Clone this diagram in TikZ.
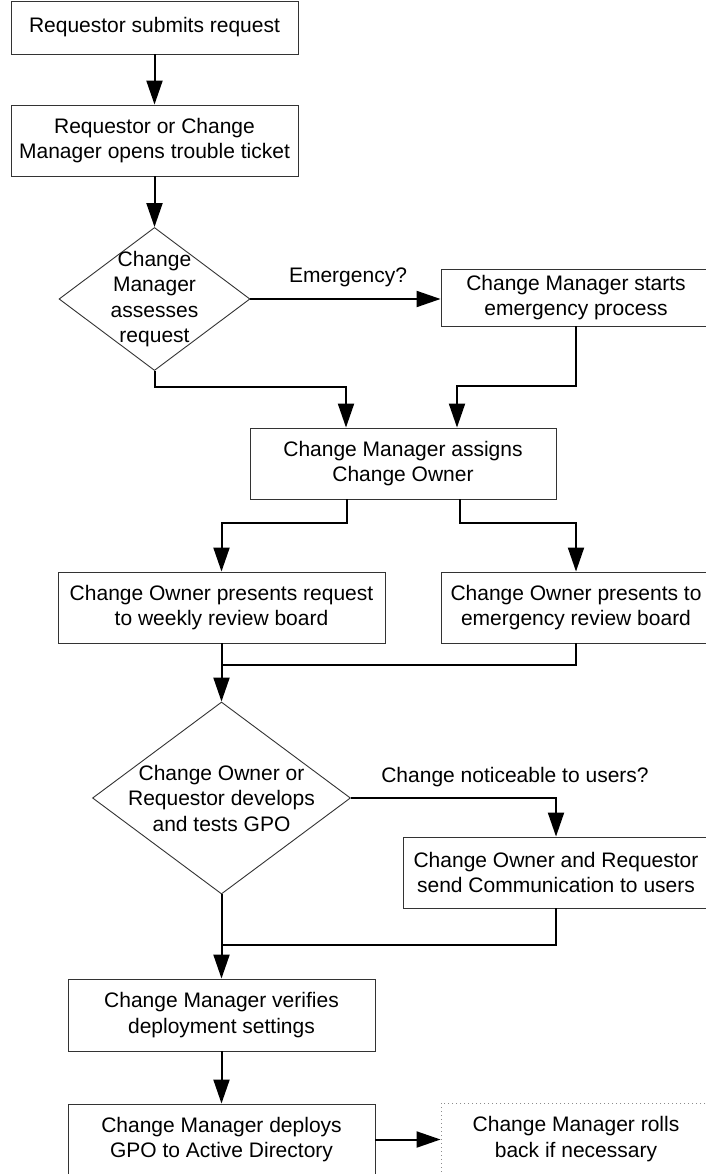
\documentclass[tikz,border=0pt]{standalone}
\usepackage{fontspec}
\setmainfont{Liberation Sans}
\usetikzlibrary{arrows.meta,shapes.geometric}
\begin{document}
\begin{tikzpicture}[x=1pt,y=-1pt,
  lbl/.style={font=\fontsize{21}{25.5}\selectfont, align=center, inner sep=0pt},
  proc/.style={lbl, draw=black!80, line width=0.9pt, rectangle},
  dia/.style={draw=black!80, line width=0.9pt, diamond, inner sep=0pt},
  dotbox/.style={lbl, draw=black!45, line width=0.9pt, dash pattern=on 1pt off 3pt, rectangle},
  conn/.style={line width=2pt, black},
  arr/.style={conn, -{Triangle[length=24pt,width=16pt]}}]
\fill[white] (0,0) rectangle (706,1174);
\useasboundingbox (0,0) rectangle (706,1174);
\clip (0,0) rectangle (706,1174);

\node[proc, minimum width=287pt, minimum height=53pt] (b1) at (154.5,27.5) {Requestor submits request};
\node[proc, minimum width=287pt, minimum height=71pt] (b2) at (154.5,140.5) {Requestor or Change\\Manager opens trouble ticket};
\node[dia, minimum width=191pt, minimum height=143pt] (d1) at (154.5,299) {};
\node[lbl] (d1t) at (d1.center) {Change\\Manager\\assesses\\request};
\node[proc, minimum width=270pt, minimum height=57pt] (b3) at (576,297.5) {Change Manager starts\\emergency process};
\node[proc, minimum width=306pt, minimum height=71pt] (b4) at (403,463.5) {Change Manager assigns\\Change Owner};
\node[proc, minimum width=327pt, minimum height=71pt] (b5) at (221.5,607.5) {Change Owner presents request\\to weekly review board};
\node[proc, minimum width=270pt, minimum height=71pt] (b6) at (576,607.5) {Change Owner presents to\\emergency review board};
\node[dia, minimum width=258pt, minimum height=192pt] (d2) at (221.5,798) {};
\node[lbl] (d2t) at (d2.center) {Change Owner or\\Requestor develops\\and tests GPO};
\node[proc, minimum width=306pt, minimum height=71pt] (b7) at (556,872.5) {Change Owner and Requestor\\send Communication to users};
\node[proc, minimum width=307pt, minimum height=72pt] (b8) at (221.5,1015) {Change Manager verifies\\deployment settings};
\node[proc, minimum width=307pt, minimum height=71pt] (b9) at (221.5,1139.5) {Change Manager deploys\\GPO to Active Directory};
\node[dotbox, minimum width=270pt, minimum height=72pt] (b10) at (576,1139) {Change Manager rolls\\back if necessary};

\node[lbl] (l1) at (348,277) {Emergency?};
\node[lbl] (l2) at (515,777) {Change noticeable to users?};

\coordinate (j1) at (154.5,387);
\coordinate (j2) at (457,386);
\coordinate (j3) at (221.5,523);
\coordinate (j4) at (576,523);
\coordinate (j5) at (221.5,665);
\coordinate (j6) at (221.5,945);

\draw[arr] (b1.south) -- (b2.north);
\draw[arr] (b2.south) -- (d1.north);
\draw[arr] (d1.east) -- (d1.east -| b3.west);
\draw[arr] (d1.south) -- (j1) -| ([xshift=-57pt]b4.north);
\draw[arr] (b3.south) |- (j2) -- (j2 |- b4.north);
\draw[arr] ([xshift=-56pt]b4.south) |- (j3) -- (b5.north);
\draw[arr] ([xshift=57pt]b4.south) |- (j4) -- (b6.north);
\draw[arr] (b5.south) -- (d2.north);
\draw[conn] (b6.south) |- (j5);
\draw[arr] (d2.east) -| (b7.north);
\draw[arr] (d2.south) -- (b8.north);
\draw[conn] (b7.south) |- (j6);
\draw[arr] (b8.south) -- (b9.north);
\draw[arr] (b9.east) -- (b9.east -| b10.west);
\end{tikzpicture}
\end{document}
